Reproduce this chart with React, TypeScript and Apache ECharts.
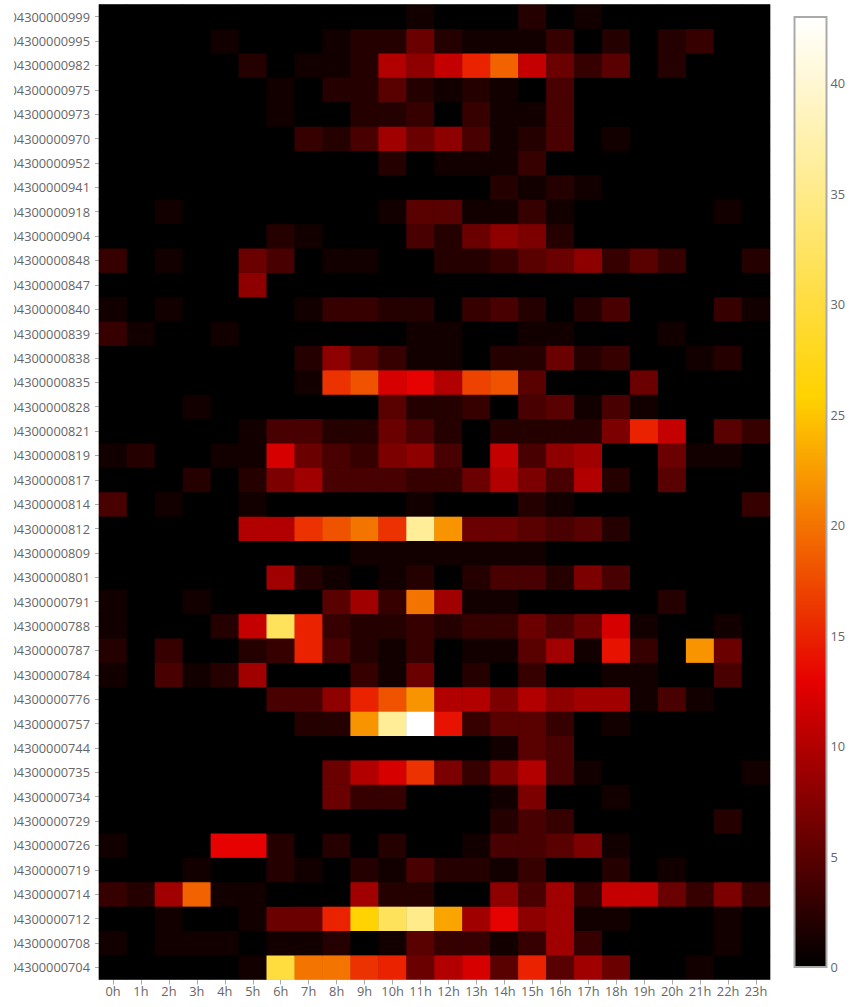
import React, { useEffect, useRef } from "react";
import * as echarts from "echarts";

const hours = ["0h","1h","2h","3h","4h","5h","6h","7h","8h","9h","10h","11h","12h","13h","14h","15h","16h","17h","18h","19h","20h","21h","22h","23h"];

const devices = ["04300000704","04300000708","04300000712","04300000714","04300000719","04300000726","04300000729","04300000734","04300000735","04300000744","04300000757","04300000776","04300000784","04300000787","04300000788","04300000791","04300000801","04300000809","04300000812","04300000814","04300000817","04300000819","04300000821","04300000828","04300000835","04300000838","04300000839","04300000840","04300000847","04300000848","04300000904","04300000918","04300000941","04300000952","04300000970","04300000973","04300000975","04300000982","04300000995","04300000999"];

const hourlyCounts: number[][] = [
  [0,0,0,0,0,1,30,20,20,16,15,6,10,12,5,15,5,9,6,0,0,1,0,0],
  [1,0,1,1,1,0,1,1,2,0,1,5,3,3,1,3,9,3,0,0,0,0,1,0],
  [0,0,1,0,0,1,6,6,15,26,32,35,23,9,13,8,9,1,1,0,0,0,1,0],
  [3,2,9,19,1,1,0,0,0,9,2,2,0,0,8,4,9,3,11,11,6,3,7,3],
  [0,0,0,1,0,0,2,1,0,2,1,4,2,2,1,3,0,0,2,0,1,0,0,0],
  [1,0,0,0,13,13,2,0,2,0,2,0,0,1,4,4,5,7,1,0,0,0,0,0],
  [0,0,0,0,0,0,0,0,0,0,0,0,0,0,2,4,3,0,0,0,0,0,2,0],
  [0,0,0,0,0,0,0,0,6,3,3,0,0,0,1,7,0,0,1,0,0,0,0,0],
  [0,0,0,0,0,0,0,0,6,10,12,16,7,3,7,10,4,1,0,0,0,0,0,1],
  [0,0,0,0,0,0,0,0,0,0,0,0,0,0,1,5,4,0,0,0,0,0,0,0],
  [0,0,0,0,0,0,0,2,2,22,36,43,14,3,5,5,3,0,1,0,0,0,0,0],
  [0,0,0,0,0,0,4,4,8,15,18,22,10,10,7,10,8,9,9,1,4,1,0,0],
  [1,0,4,1,2,9,0,0,0,3,1,6,0,2,0,3,0,0,1,1,0,0,4,0],
  [2,0,3,0,0,2,3,15,4,2,1,3,0,1,1,5,9,1,14,3,0,22,6,0],
  [1,0,0,0,2,11,32,15,3,2,2,3,2,3,3,6,4,6,12,1,0,0,1,0],
  [1,0,0,1,0,0,0,0,5,9,3,20,9,1,1,0,0,0,0,0,2,0,0,0],
  [0,0,0,0,0,0,9,2,1,0,1,2,0,2,4,4,2,7,4,0,0,0,0,0],
  [0,0,0,0,0,0,0,0,0,1,1,1,1,1,1,1,0,0,0,0,0,0,0,0],
  [0,0,0,0,0,10,10,16,18,20,16,36,22,6,6,5,4,5,2,0,0,0,0,0],
  [4,0,1,0,0,1,0,0,0,0,0,1,0,0,0,2,1,0,0,0,0,0,0,3],
  [0,0,0,2,0,2,7,9,4,4,4,3,3,6,10,7,4,10,2,0,5,0,0,0],
  [1,2,0,0,1,1,12,6,4,3,7,8,4,0,11,4,8,9,0,0,6,1,1,0],
  [0,0,0,0,0,1,4,4,2,2,6,4,2,0,2,2,2,2,7,15,11,0,5,3],
  [0,0,0,1,0,0,0,0,0,0,5,2,2,3,0,4,5,1,4,1,0,0,0,0],
  [0,0,0,0,0,0,0,1,16,18,12,13,10,17,18,5,0,0,0,6,0,0,0,0],
  [0,0,0,0,0,0,0,2,8,5,3,1,1,0,2,2,6,2,3,0,0,1,2,0],
  [3,1,0,0,1,0,0,0,0,0,0,1,1,0,0,1,1,0,0,0,1,0,0,0],
  [1,0,1,0,0,0,0,1,3,3,2,2,0,3,4,2,0,2,4,0,0,0,3,1],
  [0,0,0,0,0,8,0,0,0,0,0,0,0,0,0,0,0,0,0,0,0,0,0,0],
  [3,0,1,0,0,6,4,0,1,1,0,0,2,2,3,5,6,8,3,5,3,0,0,2],
  [0,0,0,0,0,0,2,1,0,0,0,4,2,6,8,7,2,0,0,0,0,0,0,0],
  [0,0,1,0,0,0,0,0,0,0,1,5,5,1,1,3,1,0,0,0,0,0,1,0],
  [0,0,0,0,0,0,0,0,0,0,0,0,0,0,2,1,2,1,0,0,0,0,0,0],
  [0,0,0,0,0,0,0,0,0,0,2,0,1,1,1,3,0,0,0,0,0,0,0,0],
  [0,0,0,0,0,0,0,3,2,4,9,6,8,4,1,2,4,0,1,0,0,0,0,0],
  [0,0,0,0,0,0,1,0,0,2,2,3,0,3,1,1,4,0,0,0,0,0,0,0],
  [0,0,0,0,0,0,1,0,2,2,5,2,1,2,1,0,4,0,0,0,0,0,0,0],
  [0,0,0,0,0,2,0,1,1,2,10,8,11,15,19,11,6,3,5,0,2,0,0,0],
  [0,0,0,0,1,0,0,0,1,2,2,6,2,1,1,1,3,0,2,0,2,3,0,0],
  [0,0,0,0,0,0,0,0,0,0,0,1,0,0,0,2,0,1,0,0,0,0,0,0],
];

const colorbarTicks = 5;
const maxCount = 43;
const hotStops = ["#000000","#4d0000","#990000","#e60000","#ee4600","#f78c00","#ffd200","#ffdd40","#ffe980","#fff4bf","#ffffff"];

export default function App() {
  const ref = useRef<HTMLDivElement>(null);
  useEffect(() => {
    const chart = echarts.init(ref.current!, undefined, { renderer: "svg" });
    const data: number[][] = [];
    hourlyCounts.forEach((row, y) => row.forEach((v, x) => data.push([x, y, v])));
    const font = "Open Sans";
    const grey = "#666666";
    chart.setOption({
      animation: false,
      grid: [
        { left: 85, top: 4.5, width: 671, height: 975, show: true, backgroundColor: "#000", borderColor: "#cccccc", borderWidth: 1, containLabel: false, outerBoundsMode: "none" },
        { left: 780.5, top: 17, width: 32, height: 950, show: true, backgroundColor: "transparent", borderColor: "#aaaaaa", borderWidth: 2, z: 10, outerBoundsMode: "none" },
      ],
      xAxis: [
        {
          type: "category", data: hours, gridIndex: 0,
          axisLine: { show: true, onZero: false, lineStyle: { color: "#cccccc" } },
          axisTick: { show: true, alignWithLabel: true, length: 5, lineStyle: { color: "#aaaaaa" } },
          axisLabel: { interval: 0, margin: 5, color: grey, fontFamily: font, fontSize: 12.8 },
          splitLine: { show: false }, splitArea: { show: false },
        },
        { type: "value", gridIndex: 1, show: false, min: 0, max: 1 },
      ],
      yAxis: [
        {
          type: "category", data: devices, gridIndex: 0,
          axisLine: { show: false },
          axisTick: { show: true, alignWithLabel: true, length: 4, lineStyle: { color: "#aaaaaa" } },
          axisLabel: { interval: 0, margin: 9, color: grey, fontFamily: font, fontSize: 12.8, hideOverlap: false },
          splitLine: { show: false }, splitArea: { show: false },
        },
        {
          type: "value", gridIndex: 1, min: 0, max: maxCount, interval: colorbarTicks, position: "right",
          axisLine: { show: false }, axisTick: { show: false }, splitLine: { show: false },
          axisLabel: { margin: 4, color: grey, fontFamily: font, fontSize: 12.8, showMaxLabel: false, showMinLabel: true },
          z: 10,
        },
      ],
      visualMap: {
        type: "continuous", min: 0, max: maxCount, seriesIndex: 0, calculable: false, realtime: false,
        orient: "vertical", left: 780.5, top: 17, itemWidth: 32, itemHeight: 950, padding: 0, text: ["", ""], showLabel: false,
        inRange: { color: hotStops }, hoverLink: false,
      },
      series: [
        { type: "heatmap", data, xAxisIndex: 0, yAxisIndex: 0, itemStyle: { borderWidth: 0 }, progressive: 0 },
        { type: "line", data: [], xAxisIndex: 1, yAxisIndex: 1, silent: true },
      ],
    });
    return () => chart.dispose();
  }, []);
  return <div ref={ref} style={{ position: "absolute", left: 14, top: 0, width: 843, height: 1007 }} />;
}
